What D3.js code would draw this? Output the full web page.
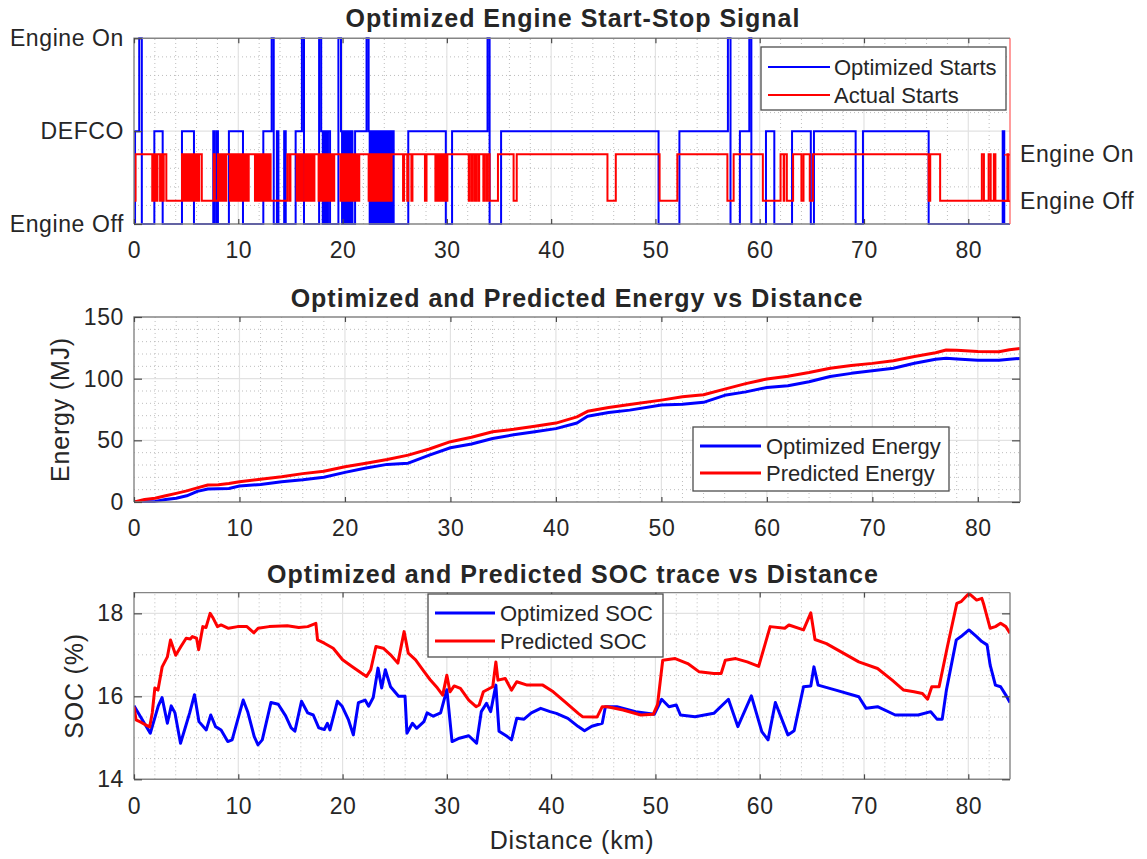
<!DOCTYPE html>
<html>
<head>
<meta charset="utf-8">
<script src="https://cdn.jsdelivr.net/npm/d3@7"></script>
<style>
  body { margin: 0; background: #ffffff; }
  svg text { font-family: "Liberation Sans", Arial, Helvetica, sans-serif; fill: #262626; }
</style>
</head>
<body>
<svg id="chart" width="1147" height="859"></svg>
<script>
// ---------- shared distance axis ----------
const distanceDomain = [0, 84];
const distanceTicks = [0, 10, 20, 30, 40, 50, 60, 70, 80];
const distanceMinor = [2,4,6,8,12,14,16,18,22,24,26,28,32,34,36,38,42,44,46,48,52,54,56,58,62,64,66,68,72,74,76,78,82];

// ---------- panel 1: engine start-stop signal ----------
const startTickValues = [0, 0.5, 1];
const startTickLabels = ["Engine Off", "DEFCO", "Engine On"];
const actualTickValues = [0, 1];
const actualTickLabels = ["Engine Off", "Engine On"];

// optimized signal: 0 = off, 0.5 = DEFCO, 1 = on (value holds until next change)
const optStartKm = [0,0.1,0.5,0.75,1.95,2.75,4.6,5.75,7.6,7.75,7.95,8.05,9.1,10.45,12.4,13.2,13.4,13.7,13.85,14.4,14.55,15.5,16.1,16.3,
  17.75,17.95,18.1,18.2,18.3,18.4,18.5,18.6,18.8,19.6,19.85,19.95,20.05,20.15,20.25,20.35,20.45,20.55,20.65,20.75,20.85,20.95,21.2,
  22.3,22.5,22.6,22.7,22.8,22.9,23.0,23.1,23.2,23.3,23.4,23.5,23.6,23.7,23.8,23.9,24.0,24.1,24.2,24.3,24.45,24.55,24.7,24.8,24.9,
  26.3,29.9,30.5,33.9,34.1,35.2,50.3,52.3,56.95,57.2,58.1,59.0,59.2,60.6,61.4,63.1,64.9,65.2,69.2,69.9,76.2,83.3,83.45,84];
const optStartLevel = [0,0.5,1,0,0.5,0,0.5,0,0.5,0,0.5,0,0.5,0,0.5,1,0,0.5,0,0.5,0,0.5,1,0,
  1,0.5,0,0.5,0,0.5,0,0.5,0,1,0.5,0,0.5,0,0.5,0,0.5,0,0.5,0,0.5,0,0.5,
  1,0.5,0,0.5,0,0.5,0,0.5,0,0.5,0,0.5,0,0.5,0,0.5,0,0.5,0,0.5,0,0.5,0,0.5,0,
  0.5,0,0.5,1,0,0.5,0,0.5,1,0,0.5,1,0,0.5,0,0.5,0,0.5,0,0.5,0,0.5,0,0];

// actual signal: 0 = off, 1 = on
const actualStartKm = [0,0.15,1.75,1.85,1.95,2.05,2.15,2.25,2.5,2.6,2.75,2.85,3.1,
  4.6,4.7,4.8,4.9,5.0,5.1,5.2,5.3,5.45,5.55,5.7,5.8,5.95,6.1,6.25,6.5,
  7.65,7.75,8.05,8.15,8.25,8.35,8.45,8.55,8.65,8.75,8.85,
  9.2,9.35,9.5,9.6,9.75,9.9,10.0,10.15,10.3,10.45,10.6,10.75,10.9,11.0,
  11.6,11.75,11.9,12.05,12.2,12.35,12.5,12.65,12.8,12.95,13.1,14.7,14.9,15.0,
  15.6,15.75,15.9,16.05,16.2,16.4,16.55,16.7,16.85,17.0,17.15,17.3,
  17.7,17.8,17.9,18.0,18.1,18.2,18.3,18.4,18.5,18.6,18.7,18.8,18.9,19.0,19.1,19.2,
  19.8,19.9,20.0,20.1,20.25,20.35,20.5,20.6,20.75,20.85,21.0,21.1,21.25,21.35,21.5,21.6,
  22.5,22.6,22.7,22.8,22.9,23.0,23.1,23.2,23.3,23.4,23.5,23.6,23.7,23.8,23.9,24.0,24.1,24.2,24.3,24.4,24.5,24.7,
  25.8,25.9,26.2,26.3,26.6,26.7,27.9,28.05,
  28.9,29.0,29.15,29.3,29.45,29.55,29.7,29.8,29.9,30.05,
  32.1,32.2,32.4,32.5,32.7,32.8,33.0,33.1,33.5,33.6,33.8,33.9,34.1,34.9,
  36.4,36.7,45.4,46.2,50.4,52.1,56.9,57.5,
  60.3,62.0,62.3,62.35,62.6,63.2,64.0,64.2,64.8,65.1,
  76.2,76.35,77.3,81.3,81.5,81.95,82.15,82.45,82.6,83.75,83.85,84];
const actualStartLevel = [0,1,0,1,0,1,0,1,0,1,0,1,0,
  1,0,1,0,1,0,1,0,1,0,1,0,1,0,1,0,
  1,0,1,0,1,0,1,0,1,0,1,
  0,1,0,1,0,1,0,1,0,1,0,1,0,1,
  0,1,0,1,0,1,0,1,0,1,0,1,0,1,
  0,1,0,1,0,1,0,1,0,1,0,1,
  0,1,0,1,0,1,0,1,0,1,0,1,0,1,0,1,
  0,1,0,1,0,1,0,1,0,1,0,1,0,1,0,1,
  0,1,0,1,0,1,0,1,0,1,0,1,0,1,0,1,0,1,0,1,0,1,
  0,1,0,1,0,1,0,1,
  0,1,0,1,0,1,0,1,0,1,
  0,1,0,1,0,1,0,1,0,1,0,1,0,1,
  0,1,0,1,0,1,0,1,
  0,1,0,1,0,1,0,1,0,1,
  0,1,0,1,0,1,0,1,0,1,0,0];

// ---------- panel 2: cumulative energy (MJ) ----------
const energyKm = [0,1,2,3,4,5,6,7,8,9,10,12,14,16,18,20,22,24,26,28,30,32,34,36,38,40,42,43,45,47,50,52,54,56,58,60,62,64,66,68,70,72,74,76,77,78,80,82,83,84];
const optimizedEnergy = [0,0.3,0.5,2,3,5,8.6,10.5,10.7,11,13,14.2,16.5,18,20,24,27.5,30.5,31.5,38,44,47,51.5,54.5,57,59.5,64,69.5,72.5,74.5,78.6,79.2,80.8,86.5,89.3,92.9,94.3,97.5,101.8,104.3,106.4,108.5,112.5,115.8,116.5,116,115,115,115.8,116.4];
const predictedEnergy = [0,2,3,5,7,9,11.5,13.8,14,15,16.5,18.5,20.5,23,25,28.6,31.5,34.5,38,43,48.9,52.5,57,59,61.5,64,69,73.5,76.6,79,82.6,85.3,87,91.5,96,99.7,102,105,108.5,110.7,112.4,114.6,118,121,123.2,123,122,121.8,123.5,124.5];
const energyTicks = [0, 50, 100, 150];
const energyMinor = [10,20,30,40,60,70,80,90,110,120,130,140];

// ---------- panel 3: battery state of charge (%) ----------
const optSocKm = [0,1.56,2.33,2.69,3.2,3.57,3.93,4.46,4.99,5.34,5.8,6.23,6.93,7.36,7.82,8.35,8.99,9.41,9.94,10.47,10.9,11.53,11.89,12.3,
  13.13,13.83,14.54,15.07,15.43,16.06,16.66,17.19,17.72,18.25,18.54,18.79,19.5,19.96,20.57,21.03,21.52,22.16,22.5,22.94,23.4,23.75,
  24.1,24.6,25.37,25.99,26.17,26.7,27.1,27.8,28.1,28.7,29.4,30.0,30.5,31.2,32.1,32.85,33.3,33.8,34.2,34.7,35.0,35.8,36.2,36.7,37.4,
  38.1,39.0,39.9,40.5,41.6,42.6,43.2,43.9,44.9,45.2,46.3,48.1,49.9,50.6,51.3,52.0,52.4,53.8,55.6,57.0,57.9,59.2,60.2,60.8,61.5,
  62.7,63.3,64.2,64.9,65.2,65.6,67.3,69.5,70.2,71.3,73.0,75.2,76.4,77.0,77.5,77.9,78.85,79.3,80.06,80.8,81.3,81.8,82.1,82.6,83.1,83.6,84];
const optimizedSoc = [15.77,15.11,15.77,15.97,15.35,15.77,15.6,14.87,15.31,15.6,16.04,15.39,15.19,15.55,15.27,15.19,14.91,14.95,15.43,15.91,15.63,15.03,14.83,14.95,
  15.85,15.81,15.53,15.24,15.16,15.88,15.6,15.55,15.24,15.2,15.35,15.19,15.88,15.76,15.43,15.07,15.85,15.91,15.76,15.97,16.68,16.2,
  16.64,16.23,16.0,16.0,15.11,15.35,15.23,15.39,15.6,15.52,15.6,16.16,14.91,14.99,15.05,14.87,15.63,15.83,15.63,16.27,15.16,15.03,14.95,15.47,15.45,
  15.6,15.71,15.63,15.59,15.47,15.27,15.17,15.28,15.35,15.75,15.75,15.63,15.57,15.93,15.75,15.79,15.55,15.51,15.59,15.93,15.27,16.01,15.15,14.95,15.85,
  15.07,15.17,16.23,16.25,16.71,16.27,16.15,15.99,15.71,15.75,15.55,15.55,15.63,15.45,15.45,16.15,17.36,17.44,17.6,17.44,17.32,17.24,16.75,16.27,16.23,16.03,15.85];

const predSocKm = [0,0.2,0.7,1.2,1.5,1.75,2.0,2.3,2.7,3.2,3.5,4.0,4.5,5.0,5.4,5.6,6.0,6.2,6.6,6.9,7.3,7.6,8.0,8.35,9.06,9.94,10.83,11.5,11.9,
  12.95,14.7,15.8,16.66,17.44,17.6,18.25,19.1,20.0,20.9,21.8,22.3,22.7,23.2,23.9,24.6,25.3,25.9,26.3,27.0,27.8,28.4,29.1,29.6,30.0,30.3,
  30.7,31.3,32.1,32.8,33.1,33.5,34.4,34.7,34.9,35.6,36.2,36.7,37.7,39.2,40.2,41.3,42.6,43.0,44.4,44.9,45.4,46.9,48.6,49.8,50.2,50.7,
  51.9,53.1,54.2,55.6,56.3,56.7,57.7,58.8,59.9,61.0,62.4,62.8,64.2,64.9,65.3,66.4,68.1,69.5,71.3,72.7,73.8,74.8,75.6,76.1,76.5,77.2,
  78.0,78.9,79.3,80.06,80.8,81.3,81.5,82.1,82.6,83.1,83.6,84];
const predictedSoc = [15.75,15.43,15.37,15.3,15.26,15.6,16.2,16.15,16.71,16.95,17.36,16.99,17.2,17.4,17.38,17.44,17.4,17.12,17.68,17.66,18.0,17.88,17.68,17.72,17.64,17.68,17.68,17.53,17.64,
  17.68,17.7,17.66,17.68,17.76,17.36,17.28,17.16,16.88,16.72,16.56,16.48,16.64,17.2,17.16,17.0,16.8,17.56,17.04,16.88,16.6,16.4,16.2,16.03,16.51,16.11,
  16.25,16.19,15.91,15.75,15.79,16.11,16.23,16.83,16.39,16.43,16.15,16.35,16.27,16.27,16.11,15.87,15.59,15.51,15.5,15.75,15.75,15.67,15.55,15.57,15.8,16.87,
  16.91,16.79,16.59,16.55,16.55,16.87,16.91,16.83,16.72,17.68,17.64,17.72,17.6,18.01,17.37,17.27,17.03,16.83,16.67,16.39,16.15,16.11,16.07,15.93,16.23,16.23,
  17.2,18.24,18.28,18.48,18.32,18.36,18.2,17.64,17.68,17.76,17.68,17.52];
const socTicks = [14, 16, 18];
const socMinor = [14.5, 15, 15.5, 16.5, 17, 17.5];

// ---------- drawing helpers ----------
const svg = d3.select("#chart");
const BLUE = "#0000ff", RED = "#ff0000";
const AXIS_GRAY = "#858585", TICK_DARK = "#4a4a4a";

function zip(xs, ys) { return xs.map((v, i) => [v, ys[i]]); }

function grid(g, x, y, xMinor, xMajor, yMinor, yMajor) {
  const [yb, yt] = y.range();
  const [xl, xr] = x.range();
  const minor = { stroke: "#bdbdbd", "stroke-width": 1, "stroke-dasharray": "1,3" };
  const major = { stroke: "#e2e2e2", "stroke-width": 1.2 };
  const vlines = (vals, st) => g.append("g").selectAll("line").data(vals).join("line")
    .attr("x1", d => x(d)).attr("x2", d => x(d)).attr("y1", yb).attr("y2", yt)
    .call(s => Object.entries(st).forEach(([k, v]) => s.attr(k, v)));
  const hlines = (vals, st) => g.append("g").selectAll("line").data(vals).join("line")
    .attr("y1", d => y(d)).attr("y2", d => y(d)).attr("x1", xl).attr("x2", xr)
    .call(s => Object.entries(st).forEach(([k, v]) => s.attr(k, v)));
  vlines(xMinor, minor); hlines(yMinor, minor);
  vlines(xMajor.filter(d => d > x.domain()[0]), major);
  hlines(yMajor.filter(d => d > y.domain()[0] && d < y.domain()[1]), major);
}

function styleAxis(g, tickColor) {
  g.select(".domain").remove();
  g.selectAll(".tick line").attr("stroke", tickColor).attr("stroke-width", 1.2);
  g.selectAll(".tick text").attr("font-size", 23).attr("letter-spacing", 0.6).attr("fill", "#262626");
}

function frame(g, x, y, rightColor) {
  const [xl, xr] = x.range(), [yb, yt] = y.range();
  g.append("path").attr("d", `M${xl},${yb}V${yt}H${xr}`).attr("fill", "none").attr("stroke", AXIS_GRAY).attr("stroke-width", 1.4);
  g.append("line").attr("x1", xl).attr("x2", xr).attr("y1", yb).attr("y2", yb).attr("stroke", AXIS_GRAY).attr("stroke-width", 1.4);
  g.append("line").attr("x1", xr).attr("x2", xr).attr("y1", yb).attr("y2", yt).attr("stroke", rightColor || AXIS_GRAY).attr("stroke-width", rightColor ? 1.2 : 1.4);
}

function xAxes(g, x, y, showLabels) {
  const [yb, yt] = y.range();
  g.append("g").attr("transform", `translate(0,${yb})`)
    .call(d3.axisBottom(x).tickValues(distanceTicks).tickSize(-5).tickPadding(18).tickFormat(showLabels ? d3.format("d") : ""))
    .call(s => styleAxis(s, TICK_DARK));
  g.append("g").attr("transform", `translate(0,${yt})`)
    .call(d3.axisTop(x).tickValues(distanceTicks).tickSize(-5).tickFormat(""))
    .call(s => styleAxis(s, TICK_DARK));
}

function title(text, cx, baseline) {
  svg.append("text").attr("x", cx).attr("y", baseline).attr("text-anchor", "middle")
    .attr("font-size", 25).attr("font-weight", "bold").attr("letter-spacing", 1.0).attr("fill", "#000")
    .text(text);
}

function legend(x0, y0, w, h, lineX0, lineX1, textX, rows, lw) {
  const g = svg.append("g");
  g.append("rect").attr("x", x0).attr("y", y0).attr("width", w).attr("height", h)
    .attr("fill", "#fff").attr("stroke", "#4d4d4d").attr("stroke-width", 1.3);
  rows.forEach(r => {
    g.append("line").attr("x1", lineX0).attr("x2", lineX1).attr("y1", r.y).attr("y2", r.y)
      .attr("stroke", r.color).attr("stroke-width", lw);
    g.append("text").attr("x", textX).attr("y", r.y).attr("dy", "0.35em")
      .attr("font-size", 22).attr("fill", "#262626").text(r.label);
  });
}

// ---------- panel 1 ----------
{
  const x = d3.scaleLinear(distanceDomain, [134, 1010]);
  const y = d3.scaleLinear([0, 1], [224, 38.3]);
  const yRight = d3.scaleLinear([-0.5, 3.5], [224, 38.3]);
  const g = svg.append("g");
  grid(g, x, y, distanceMinor, distanceTicks,
       [0.1, 0.2, 0.3, 0.4, 0.6, 0.7, 0.8, 0.9], startTickValues);

  g.append("clipPath").attr("id", "clip1").append("rect")
    .attr("x", 134).attr("y", 36).attr("width", 876).attr("height", 190);
  const stepLine = (yy) => d3.line().x(d => x(d[0])).y(d => yy(d[1])).curve(d3.curveStepAfter);
  g.append("path").datum(zip(optStartKm, optStartLevel)).attr("clip-path", "url(#clip1)")
    .attr("d", stepLine(y)).attr("fill", "none").attr("stroke", BLUE).attr("stroke-width", 2);
  g.append("path").datum(zip(actualStartKm, actualStartLevel)).attr("clip-path", "url(#clip1)")
    .attr("d", stepLine(yRight)).attr("fill", "none").attr("stroke", RED).attr("stroke-width", 2);

  frame(g, x, y, "#ff5a5a");
  xAxes(g, x, y, true);
  g.append("g").attr("transform", "translate(134,0)")
    .call(d3.axisLeft(y).tickValues(startTickValues).tickSize(-8).tickPadding(10)
      .tickFormat((d, i) => startTickLabels[i]))
    .call(s => styleAxis(s, TICK_DARK));
  g.append("g").attr("transform", "translate(1010,0)")
    .call(d3.axisRight(yRight).tickValues(actualTickValues).tickSize(-6).tickPadding(10)
      .tickFormat((d, i) => actualTickLabels[i]))
    .call(s => { styleAxis(s, RED); s.selectAll(".tick text").attr("fill", RED); });

  title("Optimized Engine Start-Stop Signal", 573, 27);
  legend(761, 47, 245, 63, 768, 830, 834,
    [{ y: 67, color: BLUE, label: "Optimized Starts" }, { y: 95, color: RED, label: "Actual Starts" }], 2);
}

// ---------- panel 2 ----------
{
  const x = d3.scaleLinear(distanceDomain, [134, 1020]);
  const y = d3.scaleLinear([0, 150], [502, 317]);
  const g = svg.append("g");
  grid(g, x, y, distanceMinor, distanceTicks, energyMinor, energyTicks);
  g.append("clipPath").attr("id", "clip2").append("rect")
    .attr("x", 134).attr("y", 317).attr("width", 886).attr("height", 186);
  const line = d3.line().x(d => x(d[0])).y(d => y(d[1]));
  g.append("path").datum(zip(energyKm, optimizedEnergy)).attr("clip-path", "url(#clip2)")
    .attr("d", line).attr("fill", "none").attr("stroke", BLUE).attr("stroke-width", 3).attr("stroke-linejoin", "round");
  g.append("path").datum(zip(energyKm, predictedEnergy)).attr("clip-path", "url(#clip2)")
    .attr("d", line).attr("fill", "none").attr("stroke", RED).attr("stroke-width", 3).attr("stroke-linejoin", "round");
  frame(g, x, y);
  xAxes(g, x, y, true);
  g.append("g").attr("transform", "translate(134,0)")
    .call(d3.axisLeft(y).tickValues(energyTicks).tickSize(-8).tickPadding(10).tickFormat(d3.format("d")))
    .call(s => styleAxis(s, TICK_DARK));
  g.append("g").attr("transform", "translate(1020,0)")
    .call(d3.axisRight(y).tickValues(energyTicks).tickSize(-8).tickFormat(""))
    .call(s => styleAxis(s, TICK_DARK));
  svg.append("text").attr("transform", "translate(69,409.5) rotate(-90)").attr("text-anchor", "middle")
    .attr("font-size", 25).attr("letter-spacing", 0.8).text("Energy (MJ)");
  title("Optimized and Predicted Energy vs Distance", 577, 306.5);
  legend(693, 427, 256, 64, 700, 761, 766,
    [{ y: 446, color: BLUE, label: "Optimized Energy" }, { y: 473, color: RED, label: "Predicted Energy" }], 3);
}

// ---------- panel 3 ----------
{
  const x = d3.scaleLinear(distanceDomain, [134, 1010]);
  const y = d3.scaleLinear([14, 18.5], [779.3, 592.6]);
  const g = svg.append("g");
  grid(g, x, y, distanceMinor, distanceTicks, socMinor, socTicks);
  g.append("clipPath").attr("id", "clip3").append("rect")
    .attr("x", 134).attr("y", 590).attr("width", 876).attr("height", 190);
  const line = d3.line().x(d => x(d[0])).y(d => y(d[1]));
  g.append("path").datum(zip(optSocKm, optimizedSoc)).attr("clip-path", "url(#clip3)")
    .attr("d", line).attr("fill", "none").attr("stroke", BLUE).attr("stroke-width", 3).attr("stroke-linejoin", "round");
  g.append("path").datum(zip(predSocKm, predictedSoc)).attr("clip-path", "url(#clip3)")
    .attr("d", line).attr("fill", "none").attr("stroke", RED).attr("stroke-width", 3).attr("stroke-linejoin", "round");
  frame(g, x, y);
  xAxes(g, x, y, true);
  g.append("g").attr("transform", "translate(134,0)")
    .call(d3.axisLeft(y).tickValues(socTicks).tickSize(-8).tickPadding(10).tickFormat(d3.format("d")))
    .call(s => styleAxis(s, TICK_DARK));
  g.append("g").attr("transform", "translate(1010,0)")
    .call(d3.axisRight(y).tickValues(socTicks).tickSize(-8).tickFormat(""))
    .call(s => styleAxis(s, TICK_DARK));
  svg.append("text").attr("transform", "translate(83,686) rotate(-90)").attr("text-anchor", "middle")
    .attr("font-size", 25).attr("letter-spacing", 0.8).text("SOC (%)");
  svg.append("text").attr("x", 572).attr("y", 849).attr("text-anchor", "middle")
    .attr("font-size", 25).attr("letter-spacing", 0.8).text("Distance (km)");
  title("Optimized and Predicted SOC trace vs Distance", 573, 583);
  legend(428, 594, 235, 63, 435, 495, 500,
    [{ y: 613, color: BLUE, label: "Optimized SOC" }, { y: 641, color: RED, label: "Predicted SOC" }], 3);
}
</script>
</body>
</html>
